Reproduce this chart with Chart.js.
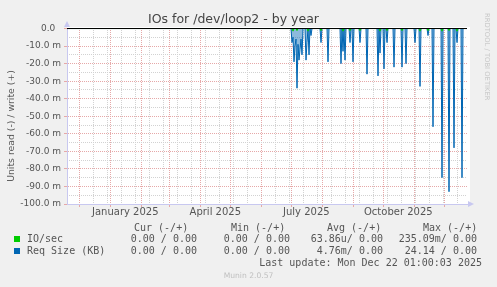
<!DOCTYPE html>
<html lang="en">
<head>
<meta charset="UTF-8" />
<title>IOs for /dev/loop2 - by year</title>
<script src="https://cdn.jsdelivr.net/npm/chart.js"></script>
<style>
  body { margin: 0; background: #f0f0f0; }
  #wrap { position: relative; width: 497px; height: 287px; overflow: hidden; color: #555; font-family: "DejaVu Sans", sans-serif; }
  #chart { position: absolute; left: 0; top: 0; }
  .t { position: absolute; white-space: pre; line-height: 12px; height: 12px; }
  .mono { font-family: "DejaVu Sans Mono", monospace; font-size: 10px; }
  .r { text-align: right; }
  .sw { position: absolute; width: 6px; height: 6px; }
  #ytitle { position: absolute; left: -49px; top: 120px; width: 120px; text-align: center; font-size: 9.3px; line-height: 12px; transform: rotate(-90deg); }
  #rrd { position: absolute; left: 432px; top: 64px; width: 110px; font-size: 6.8px; line-height: 8px; color: #c8c8c8; transform: rotate(90deg); white-space: nowrap; }
  #munin { position: absolute; left: 0; width: 497px; top: 270px; text-align: center; font-size: 7.6px; line-height: 12px; color: #c0c0c0; }
</style>
</head>
<body>
<div id="wrap">
  <canvas id="chart" width="497" height="287"></canvas>
  <div id="ytitle">Units read (-) / write (+)</div>
  <div id="rrd">RRDTOOL / TOBI OETIKER</div>

  <div class="t mono" style="left:134px; top:222px;">Cur (-/+)</div>
  <div class="t mono" style="left:231px; top:222px;">Min (-/+)</div>
  <div class="t mono" style="left:327px; top:222px;">Avg (-/+)</div>
  <div class="t mono" style="left:423px; top:222px;">Max (-/+)</div>

  <div class="sw" style="left:14px; top:236px; background:#00cc00;"></div>
  <div class="t mono" style="left:27px; top:233px;">IO/sec</div>
  <div class="t mono r" style="right:300px; top:233px;">0.00 / 0.00</div>
  <div class="t mono r" style="right:207px; top:233px;">0.00 / 0.00</div>
  <div class="t mono r" style="right:114px; top:233px;">63.86u/ 0.00</div>
  <div class="t mono r" style="right:20px; top:233px;">235.09m/ 0.00</div>

  <div class="sw" style="left:14px; top:248px; background:#0066b3;"></div>
  <div class="t mono" style="left:27px; top:245px;">Req Size (KB)</div>
  <div class="t mono r" style="right:300px; top:245px;">0.00 / 0.00</div>
  <div class="t mono r" style="right:207px; top:245px;">0.00 / 0.00</div>
  <div class="t mono r" style="right:114px; top:245px;">4.76m/ 0.00</div>
  <div class="t mono r" style="right:20px; top:245px;">24.14 / 0.00</div>

  <div class="t mono r" style="right:15px; top:257px;">Last update: Mon Dec 22 01:00:03 2025</div>
  <div id="munin">Munin 2.0.57</div>
</div>

<script>
  // time frame: one x unit = one day, graph covers 400 days
  const startMs = Date.UTC(2024, 10, 18, 16, 48);
  const spanDays = 400;
  const dayOf = (iso) => (Date.parse(iso + 'T00:00:00Z') - startMs) / 864e5;

  const xLabels = ['January 2025', 'April 2025', 'July 2025', 'October 2025'];
  const xLabelDates = ['2025-01-16', '2025-04-16', '2025-07-16', '2025-10-16'];
  const monthStarts = ['2024-12-01', '2025-01-01', '2025-02-01', '2025-03-01', '2025-04-01', '2025-05-01',
    '2025-06-01', '2025-07-01', '2025-08-01', '2025-09-01', '2025-10-01', '2025-11-01', '2025-12-01'];
  const minorFrom = '2024-12-01';   // minor grid every 14 days from here
  const minorStep = 14;

  const yTicks = [0, -10, -20, -30, -40, -50, -60, -70, -80, -90, -100];
  const yTickLabels = ['0.0  ', '-10.0 m', '-20.0 m', '-30.0 m', '-40.0 m', '-50.0 m',
    '-60.0 m', '-70.0 m', '-80.0 m', '-90.0 m', '-100.0 m'];

  // Req Size (KB), read side, daily average in milli units (day index from graph start)
  const reqDays = [225, 226, 227, 228, 229, 230, 231, 232, 233, 234, 235, 239, 240, 242, 244,
    254, 261, 274, 276, 278, 283, 286, 293, 300, 311, 313, 317, 320, 327, 335, 339,
    348, 353, 361, 366, 375, 382, 387, 390, 395];
  const reqRead = [-8, -5, -19, -10, -6, -34, -9, -18, -12, -6, -15, -18, -8, -15, -4,
    -8, -19, -20, -13, -18, -8, -19, -8, -26, -27, -14, -23, -8, -22, -22, -20,
    -8, -33, -4, -56, -85, -93, -68, -8, -85];

  // IO/sec, read side
  const ioDays = [226, 230, 241, 254, 276, 283, 293, 313, 320, 335, 353, 361, 375, 382, 390];
  const ioRead = [-1.5, -1.2, -1.5, -1.2, -1.5, -1.2, -1.2, -1.5, -1.2, -1.2, -1.5, -1.2, -1.5, -1.2, -1.5];

  function daily(days, vals) {
    const out = [];
    for (let d = 0; d <= spanDays; d++) {
      const i = days.indexOf(d);
      out.push({ x: d, y: i >= 0 ? vals[i] : 0 });
    }
    return out;
  }

  const minorDays = [];
  for (let d = dayOf(minorFrom); d < spanDays; d += minorStep) minorDays.push(d);
  const yMinor = yTicks.slice(1).map(v => v + 5);

  const FONT = 'DejaVu Sans';
  const RED = '#e6a8a8';
  const GREY = '#d2d2d2';
  const AXIS = '#c8c8f0';

  const plotBg = {
    id: 'plotBg',
    beforeDraw(chart) {
      const a = chart.chartArea, c = chart.ctx;
      c.save();
      c.fillStyle = '#ffffff';
      c.fillRect(a.left, a.top - 1, a.right - a.left + 3, a.bottom - a.top + 1);
      c.restore();
    },
    afterDraw(chart) {
      const a = chart.chartArea, c = chart.ctx;
      c.save();
      c.fillStyle = AXIS;
      c.beginPath();
      c.moveTo(a.left - 3, a.top - 1); c.lineTo(a.left + 3, a.top - 1); c.lineTo(a.left, a.top - 7);
      c.closePath(); c.fill();
      c.beginPath();
      c.moveTo(a.right + 1, a.bottom - 3); c.lineTo(a.right + 1, a.bottom + 3); c.lineTo(a.right + 7, a.bottom);
      c.closePath(); c.fill();
      c.restore();
    }
  };

  const setTicks = (vals) => (s) => { s.ticks = vals.map(v => ({ value: v })); };

  new Chart(document.getElementById('chart'), {
    type: 'line',
    data: {
      datasets: [
        { label: 'zero', data: daily([], []), borderColor: '#000000', borderWidth: 1, pointRadius: 0, fill: false },
        { label: 'IO/sec', data: daily(ioDays, ioRead), borderColor: '#00cc00', borderWidth: 1, pointRadius: 0, fill: false },
        { label: 'Req Size (KB)', data: daily(reqDays, reqRead), borderColor: '#0066b3', borderWidth: 1,
          backgroundColor: 'rgba(0,102,179,0.45)', pointRadius: 0, fill: 'origin' }
      ]
    },
    options: {
      responsive: false,
      devicePixelRatio: 1,
      animation: false,
      layout: { padding: { left: 0, right: 30, top: 0, bottom: 67 } },
      plugins: {
        legend: { display: false },
        tooltip: { enabled: false },
        title: {
          display: true,
          text: 'IOs for /dev/loop2 - by year',
          color: '#444',
          font: { family: FONT, size: 12.5, weight: 'normal' },
          padding: { top: 12, bottom: 1 }
        }
      },
      elements: { line: { tension: 0 } },
      scales: {
        x: {
          type: 'linear', position: 'bottom', weight: 2, min: 0, max: spanDays, bounds: 'data',
          afterBuildTicks: setTicks(xLabelDates.map(dayOf)),
          afterFit: (s) => { s.height = 16; },
          ticks: { callback: (v, i) => xLabels[i], autoSkip: false, maxRotation: 0,
            font: { family: FONT, size: 10 }, color: '#555', padding: 2 },
          grid: { display: false, drawTicks: false },
          border: { display: true, color: AXIS }
        },
        xMinor: {
          type: 'linear', position: 'bottom', weight: 0, min: 0, max: spanDays, bounds: 'data',
          afterBuildTicks: setTicks(minorDays),
          afterFit: (s) => { s.height = 0; },
          ticks: { display: false },
          grid: { color: GREY, drawTicks: false },
          border: { display: false, dash: [1, 1] }
        },
        xMonth: {
          type: 'linear', position: 'bottom', weight: 0, min: 0, max: spanDays, bounds: 'data',
          afterBuildTicks: setTicks(monthStarts.map(dayOf)),
          afterFit: (s) => { s.height = 0; },
          ticks: { display: false },
          grid: { color: RED, drawTicks: true, tickLength: 3, tickColor: RED },
          border: { display: false, dash: [1, 1] }
        },
        y: {
          type: 'linear', position: 'left', min: -100, max: 0.3, bounds: 'data',
          afterBuildTicks: setTicks(yTicks),
          afterFit: (s) => { s.width = 67; },
          ticks: { callback: (v, i) => yTickLabels[i], font: { family: FONT, size: 9 }, color: '#555', padding: 3 },
          grid: { color: RED, drawTicks: true, tickLength: 3, tickColor: RED },
          border: { display: true, color: AXIS, dash: [1, 1] }
        },
        yMinor: {
          type: 'linear', position: 'left', min: -100, max: 0.3, bounds: 'data',
          afterBuildTicks: setTicks(yMinor),
          afterFit: (s) => { s.width = 0; },
          ticks: { display: false },
          grid: { color: GREY, drawTicks: false },
          border: { display: false, dash: [1, 1] }
        }
      }
    },
    plugins: [plotBg]
  });
</script>
</body>
</html>
